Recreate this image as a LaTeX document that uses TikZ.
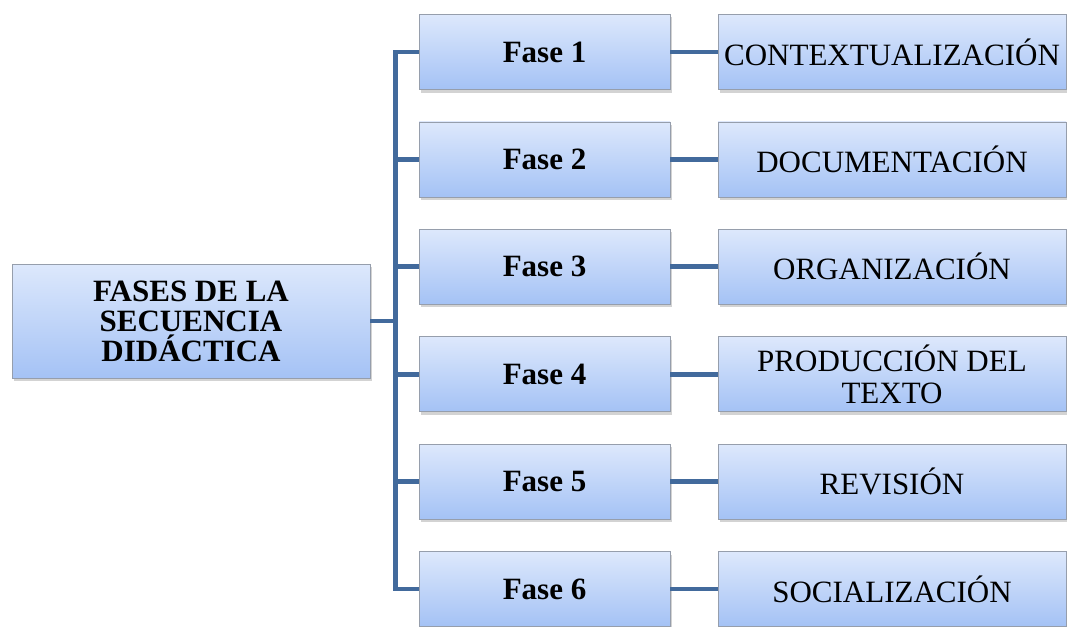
\documentclass[tikz,border=0pt]{standalone}
\usepackage{fontspec}
\setmainfont{Liberation Serif}
\usepackage{tikz}
\usetikzlibrary{positioning,shadows}

\definecolor{cajaarriba}{RGB}{221,232,252}
\definecolor{cajaabajo}{RGB}{164,194,245}
\definecolor{borde}{RGB}{150,158,172}
\definecolor{linea}{RGB}{66,106,156}

\tikzset{
  caja/.style={draw=borde, line width=0.7pt, top color=cajaarriba, bottom color=cajaabajo,
    inner sep=0pt, align=center, drop shadow={shadow xshift=2pt, shadow yshift=-3pt, opacity=0.35}},
  fasebox/.style={caja, minimum width=251pt, minimum height=75pt,
    font=\fontsize{31}{31}\selectfont\bfseries},
  etapabox/.style={caja, minimum width=348pt, minimum height=75pt,
    font=\fontsize{31}{32}\selectfont},
  conector/.style={draw=linea, line width=4.8pt}
}

\begin{document}
\begin{tikzpicture}[x=1pt,y=-1pt]
    \useasboundingbox (0,0) rectangle (1067,626);

    % Main box
    \node[caja, minimum width=358pt, minimum height=114pt,
      font=\fontsize{31}{30}\selectfont\bfseries] (fases) at (191,321)
      {FASES DE LA\\SECUENCIA\\DID\'ACTICA};

    % Phases
    \node[fasebox] (fase1) at (544.5,52) {Fase 1};
    \node[fasebox] (fase2) at (544.5,159.4) {Fase 2};
    \node[fasebox] (fase3) at (544.5,266.8) {Fase 3};
    \node[fasebox] (fase4) at (544.5,374.2) {Fase 4};
    \node[fasebox] (fase5) at (544.5,481.6) {Fase 5};
    \node[fasebox] (fase6) at (544.5,589) {Fase 6};

    % Stages
    \node[etapabox] (etapa1) at (892,52) {CONTEXTUALIZACIÓN};
    \node[etapabox] (etapa2) at (892,159.4) {DOCUMENTACIÓN};
    \node[etapabox] (etapa3) at (892,266.8) {ORGANIZACIÓN};
    \node[etapabox] (etapa4) at (892,374.2) {PRODUCCIÓN DEL\\TEXTO};
    \node[etapabox] (etapa5) at (892,481.6) {REVISIÓN};
    \node[etapabox] (etapa6) at (892,589) {SOCIALIZACIÓN};

    % Branches
    \draw[conector] (fases.east) -- ++(25,0) coordinate (rama);
    \draw[conector] (fase1.west) -| (rama) |- (fase6.west);
    \draw[conector] (rama) |- (fase2.west);
    \draw[conector] (rama) |- (fase3.west);
    \draw[conector] (rama) |- (fase4.west);
    \draw[conector] (rama) |- (fase5.west);

    % Links to stages
    \draw[conector] (fase1.east) -- (etapa1.west);
    \draw[conector] (fase2.east) -- (etapa2.west);
    \draw[conector] (fase3.east) -- (etapa3.west);
    \draw[conector] (fase4.east) -- (etapa4.west);
    \draw[conector] (fase5.east) -- (etapa5.west);
    \draw[conector] (fase6.east) -- (etapa6.west);

\end{tikzpicture}
\end{document}
